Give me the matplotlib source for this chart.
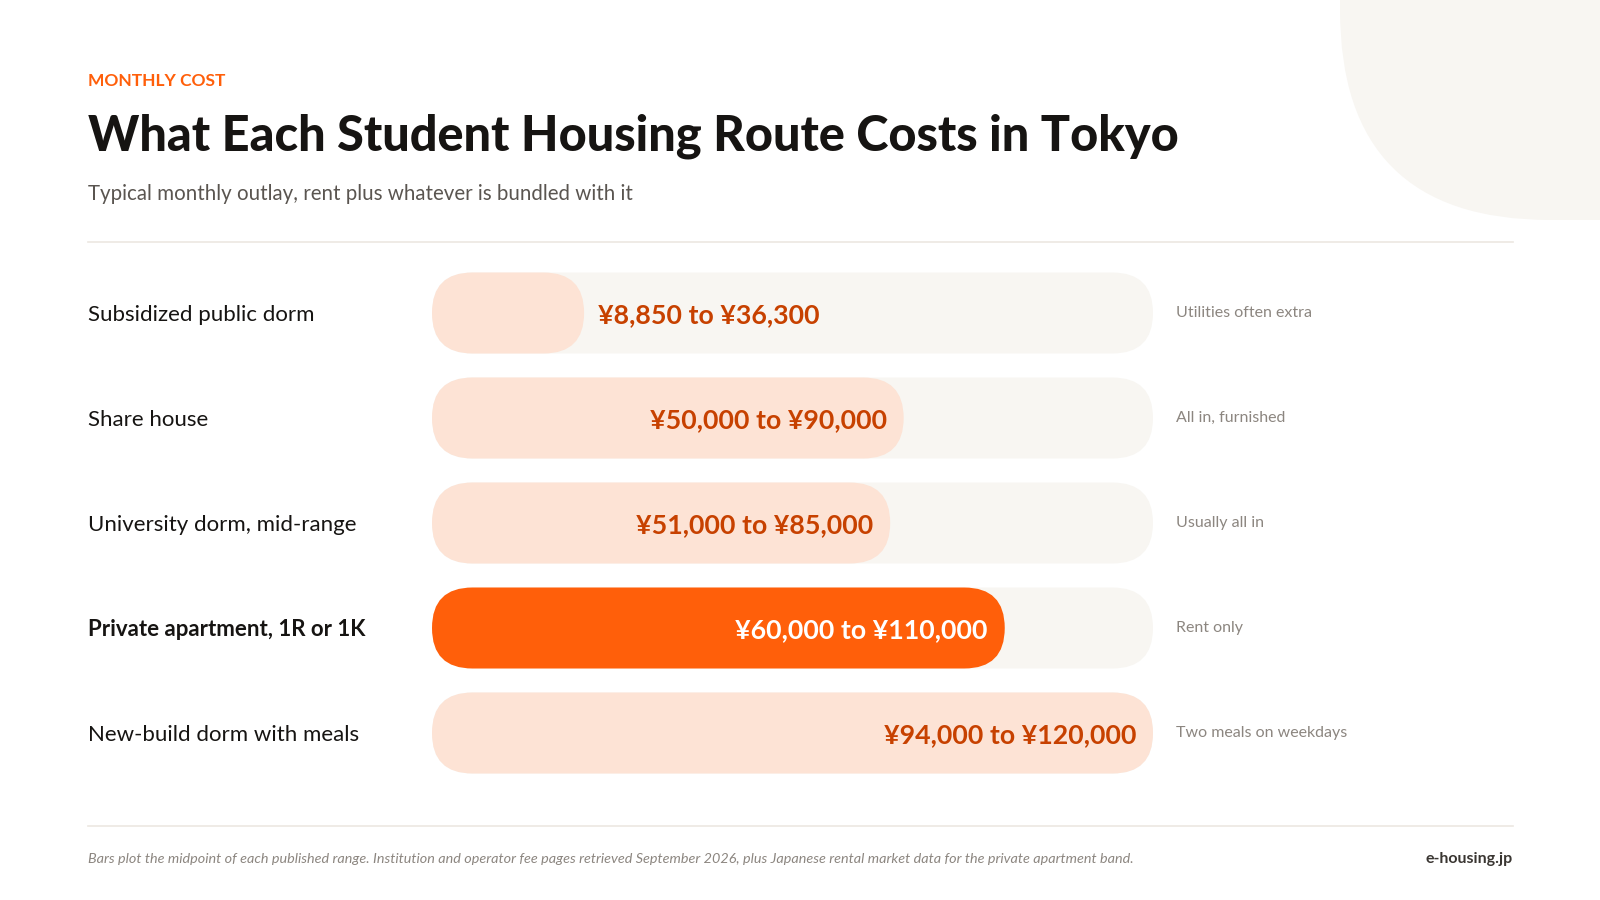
import matplotlib
matplotlib.use("Agg")
import matplotlib.pyplot as plt
from matplotlib import transforms
from matplotlib.patches import FancyBboxPatch

plt.rcParams["font.family"] = ["Lato", "DejaVu Sans"]

# data
categories = [
    "Subsidized public dorm",
    "Share house",
    "University dorm, mid-range",
    "Private apartment, 1R or 1K",
    "New-build dorm with meals",
]
low = [8850, 50000, 51000, 60000, 94000]
high = [36300, 90000, 85000, 110000, 120000]
notes = [
    "Utilities often extra",
    "All in, furnished",
    "Usually all in",
    "Rent only",
    "Two meals on weekdays",
]
highlight = 3

mids = [(a + b) / 2 for a, b in zip(low, high)]
xmax = max(mids)

ORANGE = "#FF5F0A"
LIGHT = "#FDE3D5"
TRACK = "#F8F6F2"
DARK_ORANGE = "#C74100"
INK = "#161412"
GREY = "#8C8680"
RULE = "#ECE8E2"

W, H = 1600, 900
fig = plt.figure(figsize=(16, 9), dpi=100)
fig.patch.set_facecolor("white")

# background layer in pixel coordinates
bg = fig.add_axes([0, 0, 1, 1])
bg.set_xlim(0, W)
bg.set_ylim(H, 0)
bg.axis("off")
bg.add_patch(FancyBboxPatch((1340, -400), 600, 620,
                            boxstyle="round,pad=0,rounding_size=210",
                            fc=TRACK, ec="none"))
bg.plot([88, 1513], [242, 242], color=RULE, lw=1.2)
bg.plot([88, 1513], [826, 826], color=RULE, lw=1.2)

bg.text(88, 81, "MONTHLY COST", color=ORANGE,
        fontsize=12.5, fontweight="bold", va="center", ha="left")
bg.text(88, 136, "What Each Student Housing Route Costs in Tokyo", color=INK,
        fontsize=35, fontweight="black", va="center", ha="left")
bg.text(88, 194, "Typical monthly outlay, rent plus whatever is bundled with it",
        color="#5A5550", fontsize=14.8, va="center", ha="left")
bg.text(88, 859,
        "Bars plot the midpoint of each published range. Institution and operator fee pages "
        "retrieved September 2026, plus Japanese rental market data for the private apartment band.",
        color=GREY, fontsize=10.4, style="italic", va="center", ha="left")
bg.text(1513, 859, "e-housing.jp", color="#3A3632", fontsize=11.5,
        fontweight="bold", va="center", ha="right")

# bar axes
x0, x1 = 432, 1153
row = 105
top = 313 - row / 2
ax = fig.add_axes([x0 / W, 1 - (top + row * 5) / H, (x1 - x0) / W, row * 5 / H])
ax.set_xlim(0, xmax)
ax.set_ylim(len(categories) - 0.5, -0.5)
ax.axis("off")

bar_h = 81 / row
rad_px = 40.5
x_per_px = xmax / (x1 - x0)
y_per_px = 1 / row
aspect = y_per_px / x_per_px
r = rad_px * x_per_px
dy = 2 * y_per_px  # nudge text down a touch

lab_tr = transforms.blended_transform_factory(fig.transFigure, ax.transData)

for i, (cat, m, lo, hi, note) in enumerate(zip(categories, mids, low, high, notes)):
    ax.add_patch(FancyBboxPatch((0, i - bar_h / 2), xmax, bar_h,
                                boxstyle=f"round,pad=0,rounding_size={r}",
                                mutation_aspect=aspect, fc=TRACK, ec="none"))
    hl = i == highlight
    ax.add_patch(FancyBboxPatch((0, i - bar_h / 2), m, bar_h,
                                boxstyle=f"round,pad=0,rounding_size={r}",
                                mutation_aspect=aspect,
                                fc=ORANGE if hl else LIGHT, ec="none"))
    label = f"¥{lo:,} to ¥{hi:,}"
    if m / x_per_px > 260:
        ax.annotate(label, (m, i + dy), xytext=(-17, 0), textcoords="offset pixels",
                    ha="right", va="center", fontsize=19.3, fontweight="bold",
                    color="white" if hl else DARK_ORANGE)
    else:
        ax.annotate(label, (m, i + dy), xytext=(14, 0), textcoords="offset pixels",
                    ha="left", va="center", fontsize=19.3, fontweight="bold",
                    color=DARK_ORANGE)
    fig.text(88 / W, i + dy, cat, transform=lab_tr, ha="left", va="center",
             fontsize=16, color=INK, fontweight="bold" if hl else "normal")
    ax.annotate(note, (xmax, i), xytext=(23, 0), textcoords="offset pixels",
                ha="left", va="center", fontsize=11.5, color=GREY,
                annotation_clip=False)

fig.savefig("out.png", dpi=100, facecolor="white")
